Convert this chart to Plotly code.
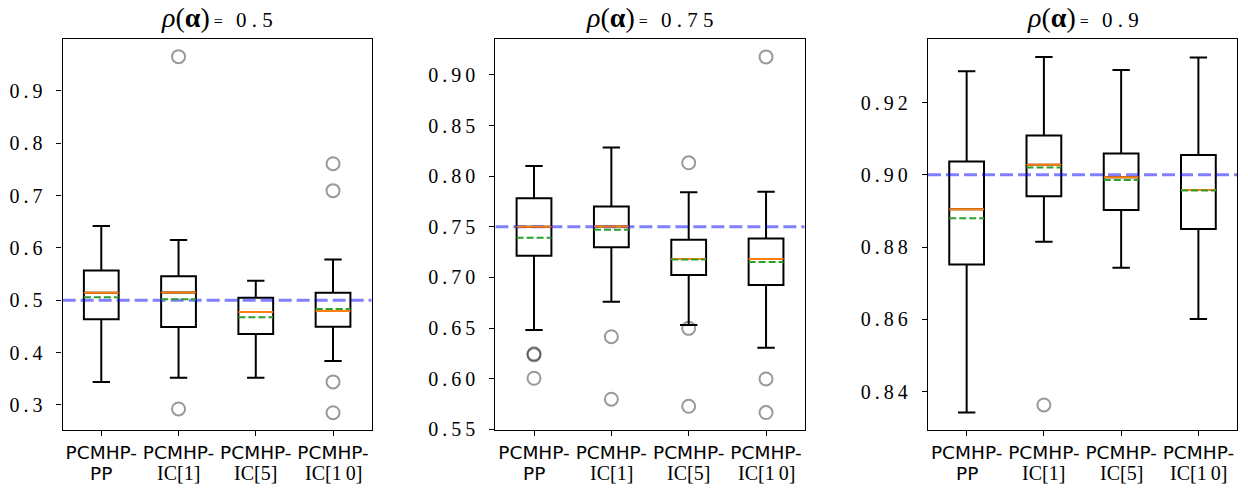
import plotly.graph_objects as go

# Box statistics for each correlation level (rows) and each method (columns)
rho = [0.5, 0.75, 0.9]
rho_labels = ["0.5", "0.75", "0.9"]
methods = ["PP", "IC[1]", "IC[5]", "IC[10]"]
positions = [1, 2, 3, 4]

lower_whisker = [[0.344, 0.352, 0.352, 0.384],
                 [0.648, 0.676, 0.653, 0.6306],
                 [0.8342, 0.8815, 0.8743, 0.8601]]
q1 = [[0.464, 0.449, 0.4356, 0.4496],
      [0.7214, 0.7297, 0.7023, 0.6925],
      [0.8752, 0.8941, 0.8903, 0.8850]]
median = [[0.5146, 0.515, 0.4776, 0.4796],
          [0.75, 0.7503, 0.7181, 0.7181],
          [0.8905, 0.9028, 0.8993, 0.8958]]
mean = [[0.506, 0.502, 0.4675, 0.4834],
        [0.7391, 0.747, 0.7178, 0.7152],
        [0.8880, 0.9020, 0.8986, 0.8957]]
q3 = [[0.557, 0.546, 0.505, 0.5146],
      [0.7783, 0.7701, 0.7372, 0.7385],
      [0.9037, 0.9109, 0.9059, 0.9055]]
upper_whisker = [[0.642, 0.615, 0.5375, 0.578],
                 [0.810, 0.8284, 0.784, 0.7845],
                 [0.9287, 0.9326, 0.9290, 0.9325]]
outliers = [[[], [0.9655, 0.2923], [], [0.761, 0.7095, 0.344, 0.2852]],
            [[0.6235, 0.6245, 0.6004], [0.6414, 0.5797], [0.8132, 0.6497, 0.5727], [0.9178, 0.5997, 0.5665]],
            [[], [0.8363], [], []]]

y_ranges = [[0.2516, 0.9993], [0.549, 0.9355], [0.8293, 0.9376]]
y_ticks = [[0.3, 0.4, 0.5, 0.6, 0.7, 0.8, 0.9],
           [0.55, 0.60, 0.65, 0.70, 0.75, 0.80, 0.85, 0.90],
           [0.84, 0.86, 0.88, 0.90, 0.92]]
y_tick_fmt = ["{:.1f}", "{:.2f}", "{:.2f}"]

x_domains = [[0.0502, 0.2978], [0.3969, 0.6448], [0.7436, 0.9912]]
y_domain = [0.1325, 0.9214]

SERIF = "Liberation Serif"
SANS = "DejaVu Sans"
THIN = "\u2009"
BOX_W = 0.45
H = 496


def spaced(s, sep=THIN):
    return sep.join(s)


def method_suffix(m):
    """Second line of a method's tick label (PP in sans, IC[k] in serif)."""
    if m == "PP":
        return "PP", dict(family=SANS, size=18.5, color="black")
    head, rest = m.split("[")
    return head + "[" + spaced(rest[:-1]) + "]", dict(family=SERIF, size=20, color="black")


fig = go.Figure()
layout = dict(width=1248, height=H, margin=dict(l=0, r=0, t=0, b=0),
              paper_bgcolor="white", plot_bgcolor="white", showlegend=False)
annotations = []

for i in range(3):
    xa = "x" if i == 0 else f"x{i+1}"
    ya = "y" if i == 0 else f"y{i+1}"

    fig.add_trace(go.Box(
        x=positions, q1=q1[i], median=median[i], q3=q3[i],
        lowerfence=lower_whisker[i], upperfence=upper_whisker[i],
        boxpoints=False, width=BOX_W, whiskerwidth=0.5,
        line=dict(color="black", width=2), fillcolor="rgba(0,0,0,0)",
        xaxis=xa, yaxis=ya, hoverinfo="skip"))

    # reference value of rho
    fig.add_trace(go.Scatter(
        x=[0.5, 4.5], y=[rho[i], rho[i]], mode="lines",
        line=dict(color="rgba(0,0,255,0.5)", width=3, dash="13px,5px"),
        xaxis=xa, yaxis=ya, hoverinfo="skip"))

    mx, my, ax_, ay_ = [], [], [], []
    for p, m, a in zip(positions, median[i], mean[i]):
        mx += [p - BOX_W / 2, p + BOX_W / 2, None]
        my += [m, m, None]
        ax_ += [p - BOX_W / 2, p + BOX_W / 2, None]
        ay_ += [a, a, None]
    fig.add_trace(go.Scatter(x=mx, y=my, mode="lines",
                             line=dict(color="#ff7f0e", width=2),
                             xaxis=xa, yaxis=ya, hoverinfo="skip"))
    fig.add_trace(go.Scatter(x=ax_, y=ay_, mode="lines",
                             line=dict(color="#2ca02c", width=2, dash="7px,3px"),
                             xaxis=xa, yaxis=ya, hoverinfo="skip"))

    ox, oy = [], []
    for p, vals in zip(positions, outliers[i]):
        for v in vals:
            ox.append(p)
            oy.append(v)
    fig.add_trace(go.Scatter(
        x=ox, y=oy, mode="markers",
        marker=dict(symbol="circle-open", size=13, color="rgba(0,0,0,0.4)",
                    line=dict(width=2, color="rgba(0,0,0,0.4)")),
        xaxis=xa, yaxis=ya, hoverinfo="skip"))

    axis_common = dict(showline=True, linecolor="black", linewidth=1.3, mirror=True,
                       ticks="outside", ticklen=5, tickwidth=1.3, tickcolor="black",
                       showgrid=False, zeroline=False, automargin=False)
    layout["xaxis" if i == 0 else f"xaxis{i+1}"] = dict(
        domain=x_domains[i], range=[0.5, 4.5], anchor=ya,
        tickvals=positions, ticktext=["PCMHP-"] * len(methods),
        ticklabelstandoff=0, tickangle=0,
        tickfont=dict(family=SANS, size=18.5, color="black"), **axis_common)
    layout["yaxis" if i == 0 else f"yaxis{i+1}"] = dict(
        domain=y_domain, range=y_ranges[i], anchor=xa,
        tickvals=y_ticks[i], ticktext=[spaced(y_tick_fmt[i].format(v)) for v in y_ticks[i]],
        ticklabelstandoff=10,
        tickfont=dict(family=SERIF, size=20, color="black"), **axis_common)

    # second line of each method label
    for p, m in zip(positions, methods):
        txt, fnt = method_suffix(m)
        annotations.append(dict(
            xref=xa, yref="paper", x=p, y=1 - 473 / H,
            xanchor="center", yanchor="middle", showarrow=False,
            text=txt, font=fnt))

    annotations.append(dict(
        xref="paper", yref="paper",
        x=(x_domains[i][0] + x_domains[i][1]) / 2, y=1 - 18 / H,
        xanchor="center", yanchor="middle", showarrow=False,
        text=("<span style='font-size:28px'><i>ρ</i>(<b>α</b>)</span>"
              "<span style='font-size:16px'> =  </span> " + spaced(rho_labels[i], " ")),
        font=dict(family=SERIF, size=21, color="black")))

layout["annotations"] = annotations
fig.update_layout(**layout)
fig.write_html("out.html")
